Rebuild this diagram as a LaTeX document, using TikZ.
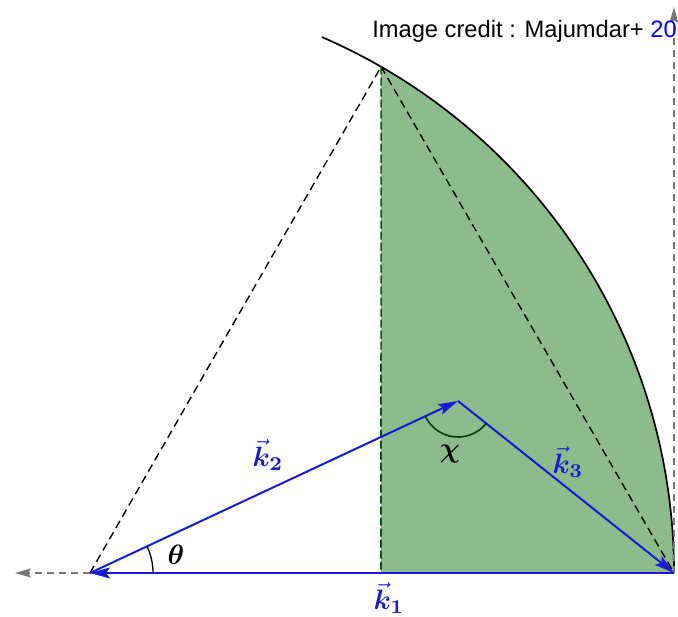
\documentclass[tikz,border=0pt]{standalone}
\usepackage{amsmath,bm}
\usepackage{fontspec}
\newfontfamily\creditfont{Liberation Sans}
\usetikzlibrary{arrows.meta,calc}
\definecolor{kblue}{RGB}{25,25,215}
\definecolor{fillgreen}{RGB}{140,188,140}
\definecolor{dgreen}{RGB}{10,85,10}
\definecolor{arrgray}{RGB}{120,120,120}
\tikzset{
  vec/.style={kblue, line width=2pt, -{Stealth[length=20pt,width=11pt,inset=4pt]}},
  dsh/.style={black, line width=1.4pt, dash pattern=on 8pt off 5pt},
  gdsh/.style={arrgray, line width=1.4pt, dash pattern=on 7pt off 5pt, -{Stealth[length=16pt,width=9pt,inset=3pt]}},
  lbl/.style={kblue, scale=2.8, transform shape, inner sep=1pt},
  ang/.style={black, scale=2.8, transform shape, inner sep=1pt}
}
\begin{document}
\begin{tikzpicture}[x=1pt,y=1pt]
\useasboundingbox (0,0) rectangle (678,617);
\coordinate (A) at (90,44);
\coordinate (B) at (674,44);
\coordinate (T) at ($(A)+(60.1:584)$);
\coordinate (F) at (381,44);
\coordinate (C) at (458,216);
\coordinate (L) at (15,44);
\coordinate (U) at (674,610);
% green region
\fill[fillgreen] (F) -- (B) arc[start angle=0,end angle=60.1,radius=584] -- cycle;
% arc
\draw[black, line width=1.7pt] (B) arc[start angle=0,end angle=66.6,radius=584];
% gray dashed axes
\draw[gdsh] (A) -- (L);
\draw[gdsh] (B) -- (U);
% dashed lines
\draw[dsh] (A) -- (T);
\draw[dsh] (T) -- (B);
\draw[dgreen, line width=1.6pt, dash pattern=on 8pt off 3pt] (T) -- (F);
% vectors
\draw[vec] (B) -- (A);
\draw[vec] (A) -- (C);
\draw[vec] (C) -- (B);
% angle arcs
\draw[black, line width=1.3pt] ($(A)+(0:63)$) arc[start angle=0,end angle=25.1,radius=63];
\draw[dgreen!70!black, line width=1.6pt] ($(C)+(205:36)$) arc[start angle=205,end angle=321.5,radius=36];
% labels
\node[ang] (th) at (176,62) {$\bm{\theta}$};
\node[ang] (chi) at (450,163) {$\bm{\chi}$};
\node[lbl] (k1) at (389,19) {$\vec{\bm{k}}_{\bm{1}}$};
\node[lbl] (k2) at (268,162) {$\vec{\bm{k}}_{\bm{2}}$};
\node[lbl] (k3) at (568,155) {$\vec{\bm{k}}_{\bm{3}}$};
\node[anchor=base east, inner sep=0pt, font=\creditfont\fontsize{23.7}{27}\selectfont] (cr) at (677,579) {Image credit : Majumdar+ \textcolor{blue}{20}};
\end{tikzpicture}
\end{document}
